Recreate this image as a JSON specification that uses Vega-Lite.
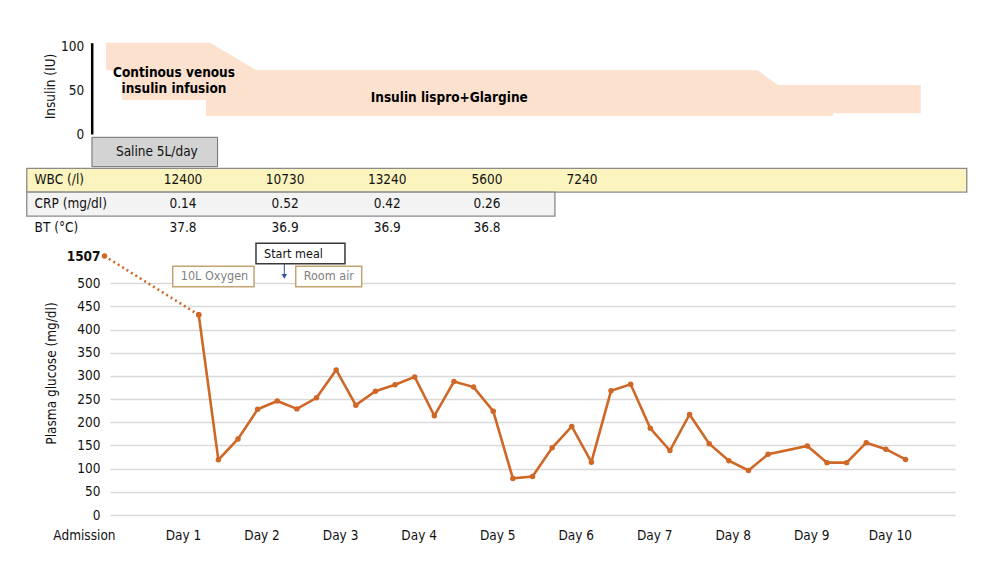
{
  "$schema": "https://vega.github.io/schema/vega-lite/v6.json",
  "autosize": {"type": "none"},
  "width": 845,
  "height": 486,
  "padding": {"left": 110, "top": 29, "right": 45, "bottom": 56},
  "background": "white",
  "config": {
    "view": {"stroke": null},
    "font": "DejaVu Sans Condensed, sans-serif",
    "text": {"font": "DejaVu Sans Condensed, sans-serif", "fontSize": 13.5},
    "axis": {
      "labelFont": "DejaVu Sans Condensed, sans-serif",
      "titleFont": "DejaVu Sans Condensed, sans-serif",
      "labelFontSize": 13.5,
      "titleFontSize": 13.5,
      "labelColor": "#111111",
      "titleColor": "#111111",
      "titleFontWeight": "normal",
      "labelOverlap": false,
      "labelFlush": false
    }
  },
  "datasets": {
    "insulin": [
      {"t": 0.02, "top": 104, "bottom": 72.5},
      {"t": 0.22, "top": 104, "bottom": 72.5},
      {"t": 0.22, "top": 104, "bottom": 38.7},
      {"t": 1.293, "top": 104, "bottom": 38.7},
      {"t": 1.293, "top": 104, "bottom": 20.5},
      {"t": 1.344, "top": 104, "bottom": 20.5},
      {"t": 1.938, "top": 72.5, "bottom": 20.5},
      {"t": 8.319, "top": 72.5, "bottom": 20.5},
      {"t": 8.574, "top": 55.8, "bottom": 20.5},
      {"t": 9.274, "top": 55.8, "bottom": 20.5},
      {"t": 9.274, "top": 55.8, "bottom": 23.6},
      {"t": 10.394, "top": 55.8, "bottom": 23.6}
    ],
    "insulinLabels": [
      {"label": "Continous venous\ninsulin infusion", "t": 0.885, "iu": 69},
      {"label": "Insulin lispro+Glargine", "t": 4.39, "iu": 41.3}
    ],
    "saline": [
      {"lane": "Saline", "label": "Saline 5L/day", "start": -0.16, "end": 1.44}
    ],
    "tableRows": [
      {"row": "WBC", "label": "WBC (/l)"},
      {"row": "CRP", "label": "CRP (mg/dl)"},
      {"row": "BT", "label": "BT (°C)"}
    ],
    "labs": [
      {"row": "WBC", "t": 1.0, "value": "12400"},
      {"row": "WBC", "t": 2.3, "value": "10730"},
      {"row": "WBC", "t": 3.6, "value": "13240"},
      {"row": "WBC", "t": 4.87, "value": "5600"},
      {"row": "WBC", "t": 6.08, "value": "7240"},
      {"row": "CRP", "t": 1.0, "value": "0.14"},
      {"row": "CRP", "t": 2.3, "value": "0.52"},
      {"row": "CRP", "t": 3.6, "value": "0.42"},
      {"row": "CRP", "t": 4.87, "value": "0.26"},
      {"row": "BT", "t": 1.0, "value": "37.8"},
      {"row": "BT", "t": 2.3, "value": "36.9"},
      {"row": "BT", "t": 3.6, "value": "36.9"},
      {"row": "BT", "t": 4.87, "value": "36.8"}
    ],
    "admission": [
      {"t": 0, "glucose": 1507},
      {"t": 1.2, "glucose": 432}
    ],
    "ward": [
      {"t": 1.2, "glucose": 432},
      {"t": 1.45, "glucose": 119},
      {"t": 1.7, "glucose": 164},
      {"t": 1.95, "glucose": 228},
      {"t": 2.2, "glucose": 246},
      {"t": 2.45, "glucose": 229},
      {"t": 2.7, "glucose": 253},
      {"t": 2.95, "glucose": 313},
      {"t": 3.2, "glucose": 237},
      {"t": 3.45, "glucose": 267},
      {"t": 3.7, "glucose": 281},
      {"t": 3.95, "glucose": 298},
      {"t": 4.2, "glucose": 214},
      {"t": 4.45, "glucose": 288},
      {"t": 4.7, "glucose": 276},
      {"t": 4.95, "glucose": 224},
      {"t": 5.2, "glucose": 79},
      {"t": 5.45, "glucose": 83},
      {"t": 5.7, "glucose": 145},
      {"t": 5.95, "glucose": 191},
      {"t": 6.2, "glucose": 114},
      {"t": 6.45, "glucose": 268},
      {"t": 6.7, "glucose": 282},
      {"t": 6.95, "glucose": 187},
      {"t": 7.2, "glucose": 139},
      {"t": 7.45, "glucose": 217},
      {"t": 7.7, "glucose": 154},
      {"t": 7.95, "glucose": 117},
      {"t": 8.2, "glucose": 96},
      {"t": 8.45, "glucose": 131},
      {"t": 8.95, "glucose": 149},
      {"t": 9.2, "glucose": 113},
      {"t": 9.45, "glucose": 113},
      {"t": 9.7, "glucose": 156},
      {"t": 9.95, "glucose": 142},
      {"t": 10.2, "glucose": 120}
    ],
    "notes": [
      {"label": "10L Oxygen", "start": 0.869, "end": 1.904, "level": "lower", "kind": "status"},
      {"label": "Start meal", "start": 1.929, "end": 3.062, "level": "upper", "kind": "event"},
      {"label": "Room air", "start": 2.435, "end": 3.275, "level": "lower", "kind": "status"}
    ],
    "meal": [
      {"event": "Start meal", "t": 2.29}
    ]
  },
  "resolve": {"scale": {"y": "independent"}, "axis": {"y": "independent"}},
  "layer": [
    {
      "layer": [
        {
          "data": {"name": "ward"},
          "mark": {"type": "line", "color": "#CF6726", "strokeWidth": 2.6, "clip": false},
          "encoding": {
            "x": {
              "field": "t", "type": "quantitative",
              "scale": {"domain": [0.07, 10.83], "nice": false, "zero": false},
              "axis": {
                "orient": "bottom", "values": [0.134, 1, 2, 3, 4, 5, 6, 7, 8, 9, 10],
                "labelExpr": "datum.value < 0.5 ? 'Admission' : 'Day ' + datum.value",
                "labelAlign": {"condition": {"test": "datum.value < 0.5", "value": "right"}, "value": "center"},
                "grid": false, "domain": false, "ticks": false, "labelPadding": 13, "title": null
              }
            },
            "y": {
              "field": "glucose", "type": "quantitative",
              "scale": {"domain": [0, 500, 1507], "range": [486, 254.3, 227], "nice": false, "zero": false},
              "axis": {
                "orient": "left",
                "values": [0, 50, 100, 150, 200, 250, 300, 350, 400, 450, 500, 1507],
                "format": "d",
                "title": "Plasma glucose (mg/dl)",
                "grid": true, "gridColor": "#D9D9D9", "gridWidth": 1.3,
                "gridOpacity": {"condition": {"test": "datum.value > 500", "value": 0}, "value": 1},
                "domain": false, "ticks": false, "labelPadding": 10,
                "labelFontWeight": {"condition": {"test": "datum.value == 1507", "value": "bold"}, "value": "normal"},
                "titlePadding": 8, "titleY": 344
              }
            }
          }
        },
        {
          "data": {"name": "admission"},
          "mark": {"type": "line", "color": "#CF6726", "strokeWidth": 2.6, "strokeDash": [2, 3.2], "clip": false},
          "encoding": {
            "x": {"field": "t", "type": "quantitative"},
            "y": {"field": "glucose", "type": "quantitative"}
          }
        },
        {
          "data": {"name": "ward"},
          "mark": {"type": "point", "filled": true, "color": "#CF6726", "size": 30, "opacity": 1, "clip": false},
          "encoding": {
            "x": {"field": "t", "type": "quantitative"},
            "y": {"field": "glucose", "type": "quantitative"}
          }
        },
        {
          "data": {"name": "admission"},
          "mark": {"type": "point", "filled": true, "color": "#CF6726", "size": 30, "opacity": 1, "clip": false},
          "encoding": {
            "x": {"field": "t", "type": "quantitative"},
            "y": {"field": "glucose", "type": "quantitative"}
          }
        }
      ]
    },
    {
      "layer": [
        {
          "data": {"name": "insulin"},
          "mark": {"type": "area", "color": "#FCE1CF", "interpolate": "linear", "clip": false},
          "encoding": {
            "x": {"field": "t", "type": "quantitative"},
            "y": {
              "field": "top", "type": "quantitative",
              "scale": {"domain": [0, 104], "range": [105, 13.7], "nice": false, "zero": false},
              "axis": {
                "orient": "left", "offset": 18.3, "values": [0, 50, 100],
                "title": "Insulin (IU)", "grid": false, "domain": true,
                "domainColor": "#000000", "domainWidth": 2.5, "ticks": false,
                "labelPadding": 8, "titlePadding": 3, "titleY": 57
              }
            },
            "y2": {"field": "bottom"}
          }
        },
        {
          "data": {"name": "insulinLabels"},
          "mark": {"type": "text", "fontWeight": "bold", "fontSize": 13.5, "lineBreak": "\n", "color": "#000000", "clip": false},
          "encoding": {
            "x": {"field": "t", "type": "quantitative"},
            "y": {"field": "iu", "type": "quantitative"},
            "text": {"field": "label"}
          }
        }
      ]
    },
    {
      "data": {"name": "saline"},
      "layer": [
        {
          "mark": {"type": "rect", "fill": "#D3D3D3", "stroke": "#6E6E6E", "strokeWidth": 1, "clip": false},
          "encoding": {
            "x": {"field": "start", "type": "quantitative"},
            "x2": {"field": "end"},
            "y": {
              "field": "lane", "type": "nominal",
              "scale": {"type": "band", "domain": ["Saline"], "range": [108.3, 137.7], "paddingInner": 0, "paddingOuter": 0},
              "axis": null
            }
          }
        },
        {
          "mark": {"type": "text", "align": "left", "dx": 24, "color": "#111111", "clip": false},
          "encoding": {
            "x": {"field": "start", "type": "quantitative"},
            "y": {"field": "lane", "type": "nominal"},
            "text": {"field": "label"}
          }
        }
      ]
    },
    {
      "layer": [
        {
          "data": {"values": [{"row": "WBC"}]},
          "mark": {"type": "rect", "fill": "#FCF4BE", "stroke": "#8A8A8A", "strokeWidth": 1.3, "clip": false},
          "encoding": {
            "x": {"datum": -0.99, "type": "quantitative"},
            "x2": {"datum": 10.98},
            "y": {
              "field": "row", "type": "nominal",
              "scale": {"type": "band", "domain": ["WBC", "CRP", "BT"], "range": [139.3, 211], "paddingInner": 0, "paddingOuter": 0},
              "axis": null
            }
          }
        },
        {
          "data": {"values": [{"row": "CRP"}]},
          "mark": {"type": "rect", "fill": "#F3F3F3", "stroke": "#8A8A8A", "strokeWidth": 1.3, "clip": false},
          "encoding": {
            "x": {"datum": -0.99, "type": "quantitative"},
            "x2": {"datum": 5.735},
            "y": {"field": "row", "type": "nominal"}
          }
        },
        {
          "data": {"name": "tableRows"},
          "mark": {"type": "text", "align": "left", "color": "#111111", "clip": false},
          "encoding": {
            "x": {"datum": -0.89, "type": "quantitative"},
            "y": {"field": "row", "type": "nominal"},
            "text": {"field": "label"}
          }
        },
        {
          "data": {"name": "labs"},
          "mark": {"type": "text", "color": "#111111", "clip": false},
          "encoding": {
            "x": {"field": "t", "type": "quantitative"},
            "y": {"field": "row", "type": "nominal"},
            "text": {"field": "value"}
          }
        }
      ]
    },
    {
      "layer": [
        {
          "data": {"name": "meal"},
          "mark": {"type": "rule", "color": "#2E5597", "strokeWidth": 1, "clip": false},
          "encoding": {
            "x": {"field": "t", "type": "quantitative"},
            "y": {
              "datum": "upper", "type": "nominal",
              "scale": {"type": "band", "domain": ["upper", "lower"], "range": [214.3, 257.7], "paddingInner": 0.1, "paddingOuter": 0},
              "axis": null
            },
            "y2": {"datum": "lower"}
          }
        },
        {
          "data": {"name": "meal"},
          "mark": {"type": "point", "shape": "triangle-down", "filled": true, "color": "#2E5597", "size": 30, "opacity": 1, "clip": false},
          "encoding": {
            "x": {"field": "t", "type": "quantitative"},
            "y": {"datum": "lower", "type": "nominal"}
          }
        },
        {
          "data": {"name": "notes"},
          "mark": {"type": "rect", "fill": "white", "strokeWidth": 1.5, "clip": false},
          "encoding": {
            "x": {"field": "start", "type": "quantitative"},
            "x2": {"field": "end"},
            "y": {"field": "level", "type": "nominal"},
            "stroke": {
              "field": "kind", "type": "nominal",
              "scale": {"domain": ["status", "event"], "range": ["#C2A473", "#3A3A3A"]},
              "legend": null
            }
          }
        },
        {
          "data": {"name": "notes"},
          "mark": {"type": "text", "align": "left", "dx": 8, "fontSize": 12.5, "clip": false},
          "encoding": {
            "x": {"field": "start", "type": "quantitative"},
            "y": {"field": "level", "type": "nominal"},
            "text": {"field": "label"},
            "color": {
              "field": "kind", "type": "nominal",
              "scale": {"domain": ["status", "event"], "range": ["#7F7F7F", "#111111"]},
              "legend": null
            }
          }
        }
      ]
    }
  ]
}
